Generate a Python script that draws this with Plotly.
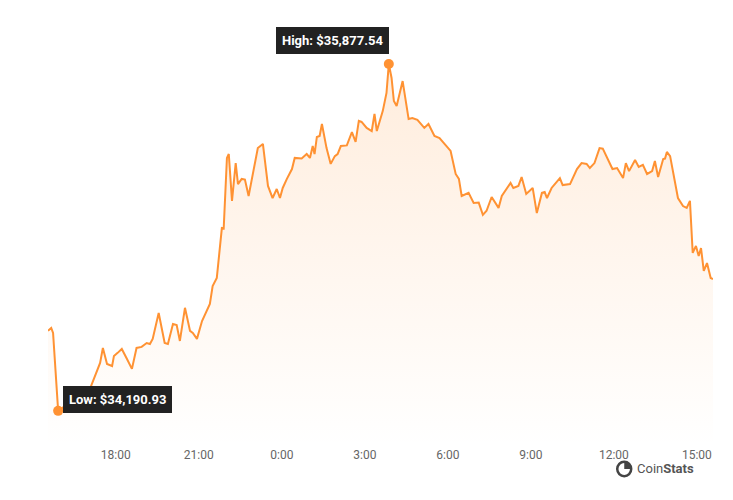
import plotly.graph_objects as go

# BTC price, 24h
times = [
    "2023-11-09 15:33", "2023-11-09 15:40", "2023-11-09 15:44", "2023-11-09 15:55", "2023-11-09 17:04",
    "2023-11-09 17:26", "2023-11-09 17:32", "2023-11-09 17:41", "2023-11-09 17:52", "2023-11-09 17:56",
    "2023-11-09 18:04", "2023-11-09 18:13", "2023-11-09 18:24", "2023-11-09 18:35", "2023-11-09 18:45",
    "2023-11-09 18:56", "2023-11-09 19:07", "2023-11-09 19:14", "2023-11-09 19:20", "2023-11-09 19:33",
    "2023-11-09 19:46", "2023-11-09 19:53", "2023-11-09 20:04", "2023-11-09 20:12", "2023-11-09 20:19",
    "2023-11-09 20:30", "2023-11-09 20:41", "2023-11-09 20:47", "2023-11-09 20:56", "2023-11-09 21:07",
    "2023-11-09 21:24", "2023-11-09 21:30", "2023-11-09 21:39", "2023-11-09 21:50", "2023-11-09 21:54",
    "2023-11-09 22:01", "2023-11-09 22:05", "2023-11-09 22:12", "2023-11-09 22:20", "2023-11-09 22:25",
    "2023-11-09 22:33", "2023-11-09 22:40", "2023-11-09 22:48", "2023-11-09 23:01", "2023-11-09 23:08",
    "2023-11-09 23:19", "2023-11-09 23:30", "2023-11-09 23:40", "2023-11-09 23:49", "2023-11-09 23:56",
    "2023-11-10 00:02", "2023-11-10 00:11", "2023-11-10 00:22", "2023-11-10 00:28", "2023-11-10 00:43",
    "2023-11-10 00:54", "2023-11-10 01:01", "2023-11-10 01:07", "2023-11-10 01:11", "2023-11-10 01:16",
    "2023-11-10 01:22", "2023-11-10 01:27", "2023-11-10 01:37", "2023-11-10 01:46", "2023-11-10 01:55",
    "2023-11-10 02:01", "2023-11-10 02:08", "2023-11-10 02:21", "2023-11-10 02:32", "2023-11-10 02:40",
    "2023-11-10 02:47", "2023-11-10 02:53", "2023-11-10 03:04", "2023-11-10 03:15", "2023-11-10 03:21",
    "2023-11-10 03:26", "2023-11-10 03:39", "2023-11-10 03:47", "2023-11-10 03:52", "2023-11-10 03:58",
    "2023-11-10 04:03", "2023-11-10 04:09", "2023-11-10 04:22", "2023-11-10 04:35", "2023-11-10 04:43",
    "2023-11-10 04:54", "2023-11-10 05:09", "2023-11-10 05:18", "2023-11-10 05:31", "2023-11-10 05:42",
    "2023-11-10 05:52", "2023-11-10 06:06", "2023-11-10 06:17", "2023-11-10 06:24", "2023-11-10 06:30",
    "2023-11-10 06:45", "2023-11-10 06:56", "2023-11-10 07:07", "2023-11-10 07:16", "2023-11-10 07:24",
    "2023-11-10 07:35", "2023-11-10 07:50", "2023-11-10 07:57", "2023-11-10 08:07", "2023-11-10 08:16",
    "2023-11-10 08:22", "2023-11-10 08:33", "2023-11-10 08:40", "2023-11-10 08:50", "2023-11-10 09:04",
    "2023-11-10 09:13", "2023-11-10 09:24", "2023-11-10 09:30", "2023-11-10 09:35", "2023-11-10 09:45",
    "2023-11-10 09:52", "2023-11-10 10:03", "2023-11-10 10:09", "2023-11-10 10:25", "2023-11-10 10:40",
    "2023-11-10 10:50", "2023-11-10 11:01", "2023-11-10 11:08", "2023-11-10 11:18", "2023-11-10 11:29",
    "2023-11-10 11:36", "2023-11-10 11:47", "2023-11-10 11:57", "2023-11-10 12:07", "2023-11-10 12:20",
    "2023-11-10 12:26", "2023-11-10 12:33", "2023-11-10 12:46", "2023-11-10 12:54", "2023-11-10 13:03",
    "2023-11-10 13:12", "2023-11-10 13:23", "2023-11-10 13:29", "2023-11-10 13:36", "2023-11-10 13:47",
    "2023-11-10 13:51", "2023-11-10 13:55", "2023-11-10 14:02", "2023-11-10 14:08", "2023-11-10 14:10",
    "2023-11-10 14:19", "2023-11-10 14:30", "2023-11-10 14:38", "2023-11-10 14:45", "2023-11-10 14:51",
    "2023-11-10 14:58", "2023-11-10 15:04", "2023-11-10 15:09", "2023-11-10 15:15", "2023-11-10 15:22",
    "2023-11-10 15:30", "2023-11-10 15:35",
]
prices = [
    34580, 34594, 34570, 34190.93, 34298,
    34424, 34497, 34419, 34409, 34458,
    34473, 34492, 34444, 34395, 34497,
    34502, 34521, 34516, 34541, 34667,
    34521, 34516, 34613, 34608, 34531,
    34692, 34580, 34570, 34541, 34628,
    34711, 34798, 34837, 35080, 35078,
    35421, 35440, 35212, 35396, 35294,
    35319, 35316, 35236, 35392, 35469,
    35489, 35285, 35226, 35270, 35226,
    35275, 35319, 35367, 35421, 35418,
    35440, 35421, 35479, 35440, 35523,
    35528, 35586, 35469, 35392, 35430,
    35440, 35479, 35482, 35547, 35499,
    35601, 35596, 35567, 35552, 35635,
    35552, 35650, 35737, 35877.54, 35810,
    35698, 35674, 35795, 35610, 35615,
    35606, 35567, 35586, 35528, 35518,
    35494, 35455, 35343, 35319, 35236,
    35251, 35202, 35204, 35144, 35164,
    35231, 35178, 35236, 35270, 35299,
    35275, 35285, 35328, 35246, 35275,
    35153, 35251, 35255, 35226, 35275,
    35294, 35323, 35289, 35294, 35367,
    35396, 35392, 35372, 35396, 35469,
    35466, 35416, 35367, 35372, 35323,
    35396, 35357, 35411, 35377, 35387,
    35343, 35357, 35406, 35328, 35416,
    35418, 35450, 35430, 35357, 35348,
    35226, 35187, 35178, 35212, 34959,
    34993, 34944, 34983, 34872, 34910,
    34837, 34832,
]
tick_vals = ["2023-11-09 18:00", "2023-11-09 21:00", "2023-11-10 00:00", "2023-11-10 03:00",
             "2023-11-10 06:00", "2023-11-10 09:00", "2023-11-10 12:00", "2023-11-10 15:00"]
tick_text = ["18:00", "21:00", "0:00", "3:00", "6:00", "9:00", "12:00", "15:00"]

orange = "#FF9233"
hi = prices.index(max(prices))
lo = prices.index(min(prices))
y_min, y_max = 34020, 36087

fig = go.Figure()
fig.add_trace(go.Scatter(
    x=times, y=prices, mode="lines",
    line=dict(color=orange, width=2),
    fill="tozeroy",
    fillgradient=dict(type="vertical", start=y_min, stop=prices[hi],
                      colorscale=[[0, "rgba(255,146,51,0.0)"], [1, "rgba(255,146,51,0.17)"]]),
    hoverinfo="skip",
))
fig.add_trace(go.Scatter(
    x=[times[hi], times[lo]], y=[prices[hi], prices[lo]], mode="markers",
    marker=dict(color=orange, size=10), hoverinfo="skip",
))

box = dict(bgcolor="#222222", bordercolor="#222222", borderpad=5,
           font=dict(color="white", size=13, family="Roboto"), showarrow=False)
fig.add_annotation(x=times[hi], y=prices[hi], text=f"<b>High: ${prices[hi]:,.2f}</b>",
                   xanchor="center", yanchor="bottom", xshift=-56, yshift=10, **box)
fig.add_annotation(x=times[lo], y=prices[lo], text=f"<b>Low: ${prices[lo]:,.2f}</b>",
                   xanchor="left", yanchor="bottom", xshift=5, yshift=-2, **box)

# CoinStats logo
fig.add_shape(type="circle", xref="paper", yref="paper", x0=0.856, x1=0.877, y0=-0.071, y1=-0.037,
              line=dict(color="#444444", width=2.5), fillcolor="white")
fig.add_shape(type="path", xref="paper", yref="paper",
              path="M 0.8665 -0.054 L 0.8665 -0.037 Q 0.877 -0.037 0.877 -0.054 Z",
              fillcolor="#444444", line=dict(width=0))
fig.add_annotation(x=0.882, y=-0.054, xref="paper", yref="paper", text="Coin<b>Stats</b>",
                   showarrow=False, xanchor="left", yanchor="middle",
                   font=dict(color="#555555", size=13, family="Roboto"))

fig.update_layout(
    width=733, height=500,
    margin=dict(l=40, r=28, t=13, b=62),
    plot_bgcolor="white", paper_bgcolor="white",
    showlegend=False,
    xaxis=dict(tickvals=tick_vals, ticktext=tick_text, showgrid=False, zeroline=False,
               showline=False, tickfont=dict(color="#666666", size=12, family="Roboto"),
               range=["2023-11-09 15:33", "2023-11-10 15:35"]),
    yaxis=dict(visible=False, range=[y_min, y_max]),
)
fig.write_html("out.html")
